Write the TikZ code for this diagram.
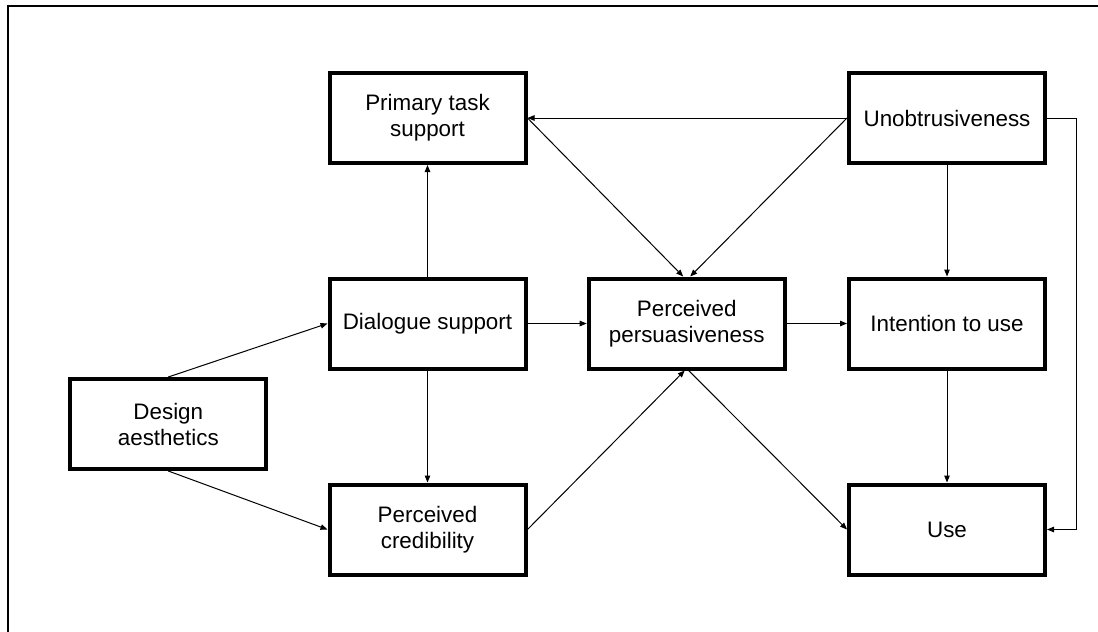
\documentclass[tikz,border=0pt]{standalone}
\usepackage{fontspec}
\setmainfont{Liberation Sans}
\usetikzlibrary{arrows.meta}
\begin{document}
\begin{tikzpicture}[x=1pt,y=-1pt,
  box/.style={draw, line width=4pt, minimum width=196pt, minimum height=90pt,
    inner sep=0pt, align=center, font=\fontsize{22.4}{26}\selectfont},
  conn/.style={line width=1pt, -{Triangle[length=7pt,width=5.5pt]}},
  plain/.style={line width=1pt}]
\useasboundingbox (0,0) rectangle (1098,632);
\draw[line width=2pt] (8,632) -- (8,6) -- (1098,6);

\node[box] (pts)  at (427.5,118)   {Primary task\\support};
\node[box] (unob) at (947,118)     {Unobtrusiveness};
\node[box] (ds)   at (427.5,323.5) {Dialogue support};
\node[box] (pp)   at (686.7,323.5) {Perceived\\persuasiveness};
\node[box] (itu)  at (947,323.5)   {Intention to use};
\node[box] (da)   at (168.3,424)   {Design\\aesthetics};
\node[box] (pc)   at (427.5,529.5) {Perceived\\credibility};
\node[box] (use)  at (947,529.5)   {Use};
\coordinate (loop) at (1076,0);

\draw[conn] (da.north) -- (ds.west);
\draw[conn] (da.south) -- (pc.west);
\draw[conn] (ds.north) -- (pts.south);
\draw[conn] (ds.south) -- (pc.north);
\draw[conn] (ds.east) -- (pp.west);
\draw[conn] (pp.east) -- (itu.west);
\draw[conn] (unob.west) -- (pts.east);
\draw[conn] (pts.east) -- ([xshift=-3.5pt]pp.north);
\draw[conn] (unob.west) -- ([xshift=3.5pt]pp.north);
\draw[conn] (pc.east) -- ([xshift=-2pt]pp.south);
\draw[conn] ([xshift=2pt]pp.south) -- (use.west);
\draw[conn] (unob.south) -- (itu.north);
\draw[conn] (itu.south) -- (use.north);
\draw[conn] (unob.east) -- (unob.east -| loop) |- (use.east);
\end{tikzpicture}
\end{document}
